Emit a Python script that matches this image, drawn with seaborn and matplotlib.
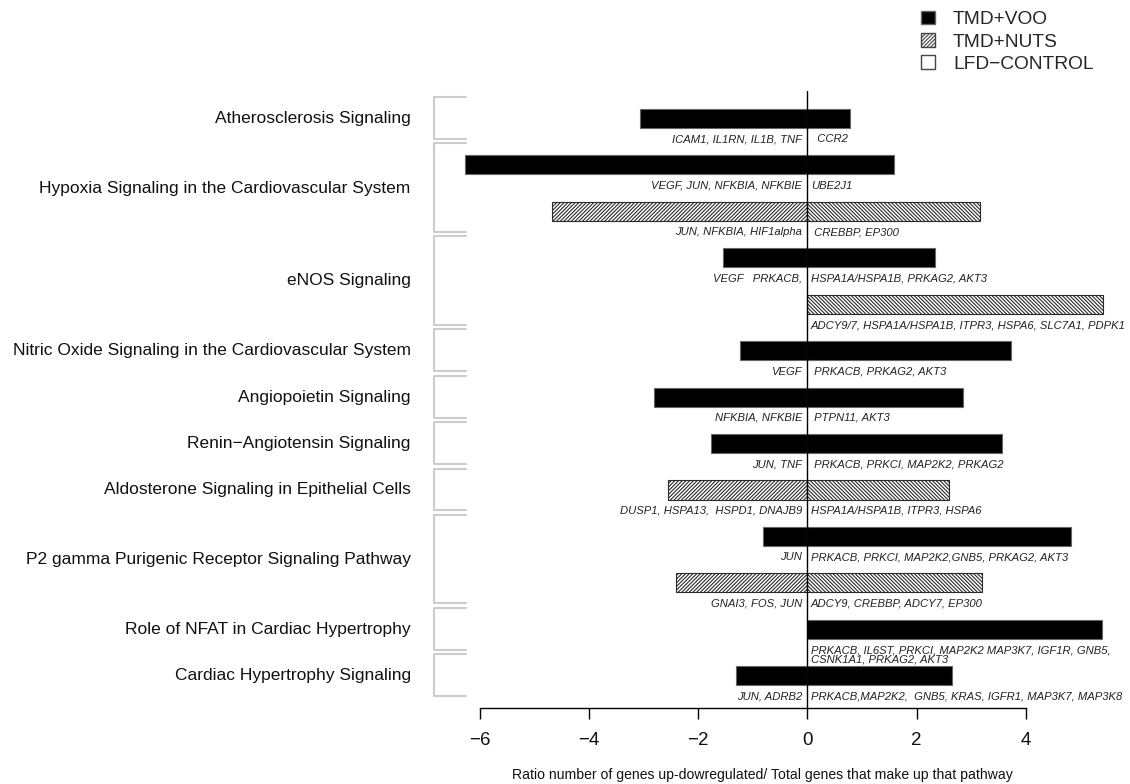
import matplotlib
matplotlib.use("Agg")
import matplotlib.pyplot as plt
import seaborn as sns
import pandas as pd
from matplotlib.patches import Patch

# pathways (one label + bracket each)
pathways = [
    "Atherosclerosis Signaling",
    "Hypoxia Signaling in the Cardiovascular System",
    "eNOS Signaling",
    "Nitric Oxide Signaling in the Cardiovascular System",
    "Angiopoietin Signaling",
    "Renin\u2212Angiotensin Signaling",
    "Aldosterone Signaling in Epithelial Cells",
    "P2 gamma Purigenic Receptor Signaling Pathway",
    "Role of NFAT in Cardiac Hypertrophy",
    "Cardiac Hypertrophy Signaling",
]

# one entry per bar row, top to bottom
bar_pathway = [0, 1, 1, 2, 2, 3, 4, 5, 6, 7, 7, 8, 9]
bar_diet = ["TMD+VOO", "TMD+VOO", "TMD+NUTS", "TMD+VOO", "TMD+NUTS", "TMD+VOO",
            "TMD+VOO", "TMD+VOO", "TMD+NUTS", "TMD+VOO", "TMD+NUTS", "TMD+VOO",
            "TMD+VOO"]
down_ratio = [-3.06, -6.27, -4.69, -1.54, 0.0, -1.23, -2.81, -1.76, -2.56,
              -0.81, -2.41, 0.0, -1.31]
up_ratio = [0.78, 1.59, 3.16, 2.33, 5.42, 3.73, 2.85, 3.57, 2.59, 4.83, 3.20,
            5.40, 2.65]

down_genes = [
    "ICAM1, IL1RN, IL1B, TNF",
    "VEGF, JUN, NFKBIA, NFKBIE",
    "JUN, NFKBIA, HIF1alpha",
    "VEGF   PRKACB,",
    "",
    "VEGF",
    "NFKBIA, NFKBIE",
    "JUN, TNF",
    "DUSP1, HSPA13,  HSPD1, DNAJB9",
    "JUN",
    "GNAI3, FOS, JUN",
    "",
    "JUN, ADRB2",
]
up_genes = [
    "  CCR2",
    "UBE2J1",
    " CREBBP, EP300",
    "HSPA1A/HSPA1B, PRKAG2, AKT3",
    "ADCY9/7, HSPA1A/HSPA1B, ITPR3, HSPA6, SLC7A1, PDPK1",
    " PRKACB, PRKAG2, AKT3",
    " PTPN11, AKT3",
    " PRKACB, PRKCI, MAP2K2, PRKAG2",
    "HSPA1A/HSPA1B, ITPR3, HSPA6",
    "PRKACB, PRKCI, MAP2K2,GNB5, PRKAG2, AKT3",
    "ADCY9, CREBBP, ADCY7, EP300",
    "PRKACB, IL6ST, PRKCI, MAP2K2 MAP3K7, IGF1R, GNB5,\nCSNK1A1, PRKAG2, AKT3",
    "PRKACB,MAP2K2,  GNB5, KRAS, IGFR1, MAP3K7, MAP3K8",
]

legend_labels = ["TMD+VOO", "TMD+NUTS", "LFD\u2212CONTROL"]
x_ticks = [-6, -4, -2, 0, 2, 4]
x_label = "Ratio number of genes up-dowregulated/ Total genes that make up that pathway"

sns.set_theme(style="white")
plt.rcParams["font.family"] = ["Liberation Sans", "DejaVu Sans"]
plt.rcParams["hatch.linewidth"] = 0.8

df = pd.DataFrame({
    "row": [f"r{i}" for i in range(len(bar_diet))],
    "diet": bar_diet,
    "down": down_ratio,
    "up": up_ratio,
})
order = list(df["row"])

fig = plt.figure(figsize=(11.3, 7.84), dpi=100)
ax = fig.add_axes([0.3894, 0.09656, 0.6018, 0.7874])

styles = {
    "TMD+VOO": dict(color="black", edgecolor="#666666"),
    "TMD+NUTS": dict(color="white", edgecolor="#2a2a2a"),
}
for diet, st in styles.items():
    for col, hatch in (("down", "/" * 9), ("up", "\\" * 9)):
        sub = df[(df["diet"] == diet) & (df[col] != 0)]
        sns.barplot(data=sub, x=col, y="row", order=order, orient="y",
                    width=0.41, saturation=1, errorbar=None,
                    color=st["color"], edgecolor=st["edgecolor"],
                    linewidth=0.8,
                    hatch=hatch if diet == "TMD+NUTS" else None, ax=ax)

ax.axvline(0, color="black", lw=1, zorder=5)

# gene labels
for i in range(len(bar_diet)):
    off = 0.56 if "\n" in up_genes[i] else 0.45
    if down_genes[i]:
        ax.text(-0.1, i + off, down_genes[i], ha="right", va="center",
                fontsize=8.1, style="italic", color="#222222")
    if up_genes[i]:
        ax.text(0.06, i + off, up_genes[i], ha="left", va="center",
                fontsize=8.1, style="italic", color="#222222", linespacing=0.85,
                clip_on=False)

# pathway brackets and labels
for p, name in enumerate(pathways):
    rows = [i for i, b in enumerate(bar_pathway) if b == p]
    top, bottom = min(rows) - 0.46, max(rows) + 0.44
    ax.plot([-6.256, -6.837, -6.837, -6.256], [top, top, bottom, bottom],
            color="#cccccc", lw=1.5, clip_on=False)
    ax.text(-7.27, sum(rows) / len(rows), name, ha="right", va="center",
            fontsize=12.5, color="#111111", clip_on=False)

ax.set_xlim(-6.733, 5.727)
ax.set_ylim(12.70, -0.59)
ax.set_yticks([])
ax.set_ylabel("")
for s in ("left", "top", "right"):
    ax.spines[s].set_visible(False)
ax.spines["bottom"].set_bounds(-6, 4)
ax.spines["bottom"].set_color("black")
ax.spines["bottom"].set_linewidth(1)
ax.set_xticks(x_ticks)
ax.tick_params(axis="x", bottom=True, direction="out", length=8, width=1,
               color="black", pad=9, labelsize=13.5, labelcolor="#111111")
ax.set_xlabel(x_label, fontsize=10.1, color="#111111")
ax.xaxis.set_label_coords(0.4735, -0.108)
ax.xaxis.label.set_va("center")

handles = [
    Patch(facecolor="black", edgecolor="#666666", label=legend_labels[0]),
    Patch(facecolor="white", edgecolor="#444444", hatch="/" * 9,
          label=legend_labels[1]),
    Patch(facecolor="white", edgecolor="#444444", label=legend_labels[2]),
]
fig.legend(handles=handles, loc="upper left", bbox_to_anchor=(0.8148, 0.9865),
           frameon=False, fontsize=13.8, handlelength=0.74, handleheight=0.74,
           handletextpad=0.95, labelspacing=0.25, borderpad=0, borderaxespad=0)

fig.savefig("out.png", dpi=100)
